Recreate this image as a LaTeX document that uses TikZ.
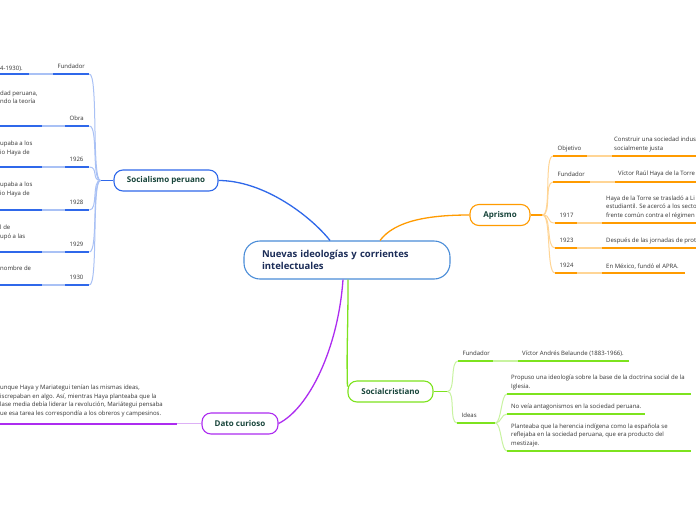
\documentclass[tikz,border=0pt]{standalone}
\usepackage{fontspec}
\setmainfont{Open Sans}
\usetikzlibrary{positioning}

\definecolor{rootblue}{HTML}{4A8DD8}
\definecolor{socblue}{HTML}{2F68EA}
\definecolor{soclite}{HTML}{A9C1F5}
\definecolor{aprorange}{HTML}{FF9B00}
\definecolor{aprlite}{HTML}{FFD595}
\definecolor{scrgreen}{HTML}{7DE31E}
\definecolor{scrlite}{HTML}{C8F3A0}
\definecolor{datpurple}{HTML}{AD2CF0}
\definecolor{datlite}{HTML}{DDB0F6}
\definecolor{topictext}{HTML}{17443A}
\definecolor{roottext}{HTML}{1B2C57}
\definecolor{leaftext}{HTML}{333333}

\tikzset{
  root/.style={draw=rootblue,line width=1.1pt,rounded corners=16pt,fill=white,
    minimum width=206pt,minimum height=38pt,text width=170pt,align=left,inner xsep=18pt,
    font=\fontsize{9.5}{12.8}\selectfont\bfseries,text=roottext},
  topic/.style={draw,line width=1.1pt,rounded corners=9pt,minimum height=21pt,fill=white,
    font=\fontsize{8}{10}\selectfont\bfseries,text=topictext,inner xsep=0pt},
  leaf/.style={font=\fontsize{6}{8.5}\selectfont,text=leaftext,inner sep=0pt,
    align=left,anchor=base west},
  lab/.style={font=\fontsize{6}{8.5}\selectfont,text=leaftext,anchor=south west,
    inner xsep=4.5pt,inner ysep=5pt,text depth=0pt,align=left,text width=#1},
  under/.style={draw=#1,line width=1.9pt},
  lite/.style={draw=#1,line width=1pt},
  main/.style={draw=#1,line width=1.3pt}
}

\begin{document}
\begin{tikzpicture}[x=1pt,y=-1pt]
\path[use as bounding box,fill=white] (0,0) rectangle (696,520);

\node[root] (root) at (347,260) {Nuevas ideologías y corrientes\\intelectuales};

\node[topic,draw=socblue,minimum width=104pt] (soc) at (166,180.5) {Socialismo peruano};
\node[topic,draw=aprorange,minimum width=60pt] (apr) at (500,215) {Aprismo};
\node[topic,draw=scrgreen,minimum width=85pt] (scr) at (390.5,391.5) {Socialcristiano};
\node[topic,draw=datpurple,minimum width=76pt] (dato) at (240,423.5) {Dato curioso};

\draw[main=socblue] (soc.east) .. controls +(45,0) and +(-20,-25) .. ([xshift=-17pt]root.north);
\draw[main=aprorange] ([xshift=33pt]root.north) .. controls +(15,-20) and +(-40,0) .. (apr.west);
\draw[main=scrgreen] ([xshift=1pt]root.south) .. controls +(0,60) and +(-1,-40) .. ([yshift=5pt]scr.west);
\draw[main=datpurple] ([xshift=-4pt]root.south) .. controls +(-5,70) and +(30,-15) .. (dato.east);

\coordinate[left=13pt of soc] (sh);
\draw[under=socblue] (soc.west) -- (sh);
\node[lab=27pt] (s1) at (53,74) {Fundador};
\node[lab=15pt] (s2) at (65,126) {Obra};
\node[lab=15pt] (s3) at (65,167) {1926};
\node[lab=15pt] (s4) at (65,210) {1928};
\node[lab=15pt] (s5) at (65,252) {1929};
\node[lab=15pt] (s6) at (65,285) {1930};
\node[leaf] (s1t) at (0,70) {4-1930).};
\node[leaf] (s2t) at (0,103.7) {dad peruana,\\ndo la teoría};
\node[leaf] (s3t) at (0,154.3) {upaba a los\\io Haya de};
\node[leaf] (s4t) at (0,195.3) {upaba a los\\io Haya de};
\node[leaf] (s5t) at (0,238) {l de\\upó a las};
\node[leaf] (s6t) at (0,270.3) {nombre de};
\foreach \n in {s1,s2,s3,s4,s5,s6}{
  \draw[lite=soclite] (sh) .. controls +(-9,0) and +(9,0) .. (\n.south east);
  \draw[under=soclite] (\n.south west) -- (0,0 |- \n.south);
  \draw[under=socblue] (\n.south west) -- (\n.south east);
}
\draw[under=socblue] (0,74) -- (29,74);
\foreach \y in {126,167,210,252,285}
  \draw[under=socblue] (0,\y) -- (42,\y);

\coordinate[right=12pt of apr] (ah);
\draw[under=aprorange] (apr.east) -- (ah);
\node[lab=25pt] (a1) at (553,156) {Objetivo};
\node[lab=28pt] (a2) at (553,182) {Fundador};
\node[lab=13pt] (a3) at (555,223) {1917};
\node[lab=13pt] (a4) at (555,248) {1923};
\node[lab=13pt] (a5) at (555,273) {1924};
\node[leaf] (a1t) at (614,150) {Construir una sociedad indus\\socialmente justa};
\node[leaf] (a2t) at (618,175) {Víctor Raúl Haya de la Torre};
\node[leaf] (a3t) at (606,217) {Haya de la Torre se trasladó a Li\\estudiantil. Se acercó a los secto\\frente común contra el régimen};
\node[leaf] (a4t) at (606,242) {Después de las jornadas de prot};
\node[leaf] (a5t) at (606,268) {En México, fundó el APRA.};
\foreach \n in {a1,a2,a3,a4,a5}{
  \draw[lite=aprlite] (ah) .. controls +(9,0) and +(-9,0) .. (\n.south west);
  \draw[under=aprorange] (\n.south west) -- (\n.south east);
}
\draw[under=aprlite] (a1.south east) -- (612,156);
\draw[under=aprorange] (612,156) -- (696,156);
\draw[under=aprlite] (a2.south east) -- (615,182);
\draw[under=aprorange] (615,182) -- (696,182);
\foreach \n in {a3,a4}{
  \draw[under=aprlite] (\n.south east) -- (602,0 |- \n.south);
  \draw[under=aprorange] (602,0 |- \n.south) -- (696,0 |- \n.south);
}
\draw[under=aprlite] (a5.south east) -- (602,273);
\draw[under=aprorange] (602,273) -- (685,273);

\coordinate[right=14pt of scr] (ch);
\draw[under=scrgreen] (scr.east) -- (ch);
\node[lab=26pt] (c1) at (458,361) {Fundador};
\node[lab=29pt] (c2) at (457,423) {Ideas};
\node[leaf] (c1t) at (522,355) {Víctor Andrés Belaunde (1883-1966).};
\foreach \n in {c1,c2}{
  \draw[lite=scrlite] (ch) .. controls +(8,0) and +(-8,0) .. (\n.south west);
  \draw[under=scrgreen] (\n.south west) -- (\n.south east);
}
\draw[under=scrlite] (c1.south east) -- (518,361);
\draw[under=scrgreen] (518,361) -- (629,361);

\coordinate (i1) at (507,394);
\coordinate (i2) at (507,414);
\coordinate (i3) at (507,451);
\node[leaf] (i1t) at (511,388) {Propuso una ideología sobre la base de la doctrina social de la\\Iglesia.};
\node[leaf] (i2t) at (511,408) {No veía antagonismos en la sociedad peruana.};
\node[leaf] (i3t) at (511,445) {Planteaba que la herencia indígena como la española se\\reflejaba en la sociedad peruana, que era producto del\\mestizaje.};
\foreach \n in {i1,i2,i3}
  \draw[lite=scrlite] (c2.south east) .. controls +(6,0) and +(-6,0) .. (\n);
\draw[under=scrgreen] (i1) -- ++(184,0);
\draw[under=scrgreen] (i2) -- ++(138,0);
\draw[under=scrgreen] (i3) -- ++(184,0);

\node[leaf] (dt) at (0,415.3) {unque Haya y Mariategui tenían las mismas ideas,\\iscrepaban en algo. Así, mientras Haya planteaba que la\\lase media debía liderar la revolución, Mariátegui pensaba\\ue esa tarea les correspondía a los obreros y campesinos.};
\coordinate (dl) at (177,423.5);
\coordinate (d0) at (0,423.5);
\draw[under=datlite] (dato.west) -- (dl);
\draw[datpurple,line width=2pt] (d0) -- (dl);
\end{tikzpicture}
\end{document}
